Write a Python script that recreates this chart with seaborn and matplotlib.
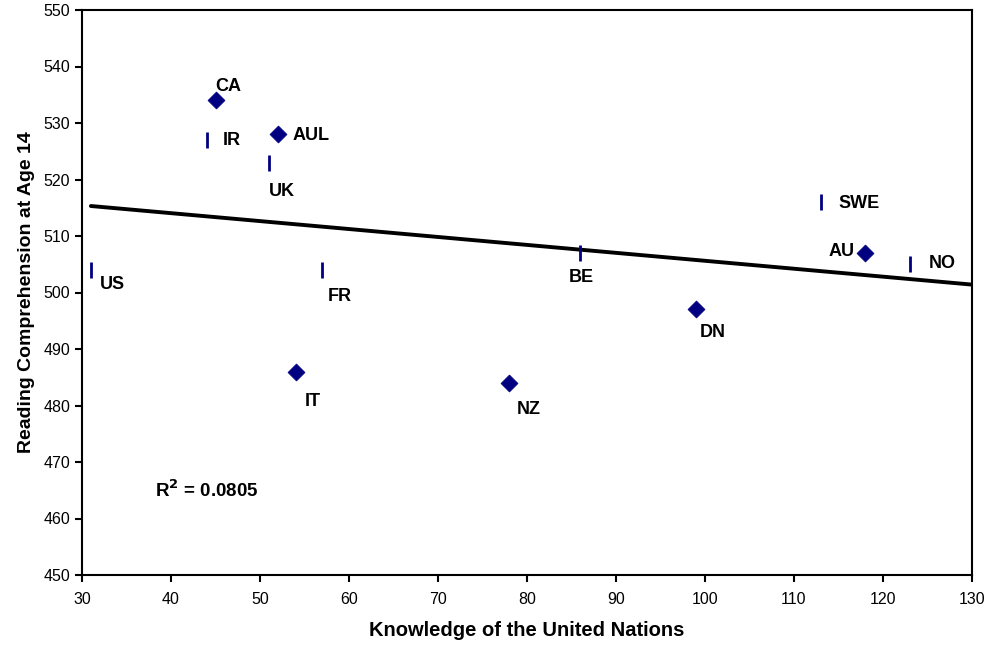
import matplotlib
matplotlib.use("Agg")
import matplotlib.pyplot as plt
import numpy as np
import pandas as pd
import seaborn as sns

# countries, knowledge of UN (x), reading score at 14 (y), marker kind
countries = ["CA", "IR", "AUL", "UK", "US", "FR", "IT", "NZ", "BE", "DN", "SWE", "AU", "NO"]
knowledge = [45, 44, 52, 51, 31, 57, 54, 78, 86, 99, 113, 118, 123]
reading = [534, 527, 528, 523, 504, 504, 486, 484, 507, 497, 516, 507, 505]
kind = ["d", "b", "d", "b", "b", "b", "d", "d", "b", "d", "b", "d", "b"]
r2_text = "0.0805"

# label offsets (pixels) from each marker
offsets = {"CA": (13, 14), "IR": (25, -1), "AUL": (33, -1), "UK": (13, -29),
           "US": (22, -15), "FR": (18, -27), "IT": (17, -30), "NZ": (20, -27),
           "BE": (1, -25), "DN": (17, -23), "SWE": (38, -1), "AU": (-24, 1),
           "NO": (33, 1)}

df = pd.DataFrame({"country": countries, "x": knowledge, "y": reading, "kind": kind})

sns.set_theme(style="white")
plt.rcParams["font.family"] = ["Liberation Sans", "DejaVu Sans"]
plt.rcParams["text.color"] = "black"
plt.rcParams["axes.labelcolor"] = "black"

fig = plt.figure(figsize=(9.92, 6.51), dpi=100)
ax = fig.add_axes([82 / 992, 1 - 575 / 651, (972 - 82) / 992, (575 - 10) / 651])

navy = "#000080"
sns.scatterplot(data=df[df["kind"] == "d"], x="x", y="y", marker="D", s=75,
                color=navy, edgecolor=navy, linewidth=0.5, ax=ax, zorder=3)
sns.scatterplot(data=df[df["kind"] == "b"], x="x", y="y", marker="|", s=120,
                color=navy, linewidth=2, ax=ax, zorder=3)

# linear trendline
slope, intercept = np.polyfit(df["x"], df["y"], 1)
xs = np.array([min(knowledge), 130])
sns.lineplot(x=xs, y=slope * xs + intercept, color="black", linewidth=2.8, ax=ax)

for c, xv, yv in zip(countries, knowledge, reading):
    ax.annotate(c, (xv, yv), xytext=offsets[c], textcoords="offset pixels",
                ha="center", va="center", fontsize=13, fontweight="bold", color="black")

ax.text(38.2, 465, "R$^\\mathbf{2}$ = " + r2_text, fontsize=13.5, fontweight="bold",
        va="center", ha="left", color="black")

ax.set_xlim(30, 130)
ax.set_ylim(450, 550)
ax.set_xticks(range(30, 131, 10))
ax.set_yticks(range(450, 551, 10))
ax.tick_params(axis="both", direction="out", length=5, width=1.5, labelsize=11.5,
               bottom=True, left=True, colors="black")
ax.tick_params(axis="x", pad=7)
for sp in ax.spines.values():
    sp.set_color("black")
    sp.set_linewidth(1.5)

ax.set_xlabel("Knowledge of the United Nations", fontsize=14.5, fontweight="bold", labelpad=10)
ax.set_ylabel("Reading Comprehension at Age 14", fontsize=14, fontweight="bold", labelpad=6)

fig.savefig("out.png", dpi=100)
